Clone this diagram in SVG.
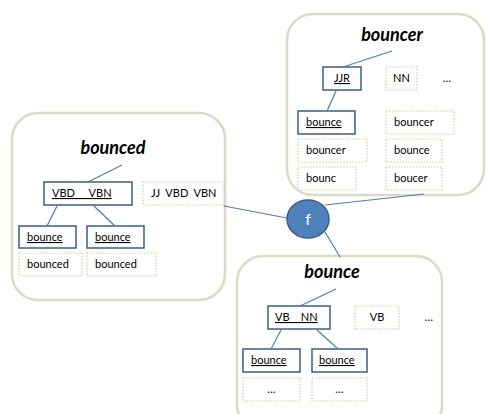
<svg xmlns="http://www.w3.org/2000/svg" width="487" height="414" viewBox="0 0 487 414">
<style>
.panel{fill:#fff;stroke:#ddd9c3;stroke-width:2.5}
.solid{fill:#fff;stroke:#385d8a;stroke-width:1.5}
.dot{fill:#fff;stroke:#c3d69b;stroke-width:1.2;stroke-dasharray:1.5 1.5}
.t{font-family:Lato,"Liberation Sans",sans-serif;font-size:11px;fill:#000;white-space:pre}
.u{text-decoration:underline}
.title{font-family:Lato,"Liberation Sans",sans-serif;font-size:18px;font-weight:bold;font-style:italic;fill:#000;text-anchor:middle}
.c{stroke:#4a7ebb;stroke-width:1.2;fill:none}
</style>
<g id="panel-bouncer">
<rect class="panel" x="287" y="14" width="197" height="181" rx="26"/>
<text class="title" x="392" y="41">bouncer</text>
<rect class="solid" x="323" y="67" width="38" height="23"/>
<text class="t u" x="342" y="82" text-anchor="middle">JJR</text>
<rect class="dot" x="386" y="67" width="31" height="23"/>
<text class="t" x="401.5" y="82" text-anchor="middle">NN</text>
<text class="t" x="447" y="82" text-anchor="middle">…</text>
<rect class="solid" x="298" y="111" width="57" height="23"/>
<text class="t u" x="306" y="126">bounce</text>
<rect class="dot" x="386" y="111" width="68" height="23"/>
<text class="t" x="394" y="126">bouncer</text>
<rect class="dot" x="298" y="139" width="69" height="23"/>
<text class="t" x="306" y="154">bouncer</text>
<rect class="dot" x="386" y="139" width="56" height="23"/>
<text class="t" x="394" y="154">bounce</text>
<rect class="dot" x="298" y="167" width="58" height="23"/>
<text class="t" x="306" y="182">bounc</text>
<rect class="dot" x="386" y="167" width="56" height="23"/>
<text class="t" x="394" y="182">boucer</text>
</g>
<g id="panel-bounced">
<rect class="panel" x="12" y="113" width="213" height="187" rx="26"/>
<text class="title" x="113" y="154">bounced</text>
<rect class="solid" x="44" y="182" width="88" height="23"/>
<text class="t u" x="52" y="197">VBD     VBN</text>
<rect class="dot" x="143" y="182" width="81" height="23"/>
<text class="t" x="151" y="197">JJ  VBD  VBN</text>
<rect class="solid" x="19" y="226" width="57" height="22"/>
<text class="t u" x="27" y="241">bounce</text>
<rect class="solid" x="87" y="226" width="57" height="22"/>
<text class="t u" x="95" y="241">bounce</text>
<rect class="dot" x="19" y="253" width="63" height="23"/>
<text class="t" x="27" y="268">bounced</text>
<rect class="dot" x="87" y="253" width="69" height="23"/>
<text class="t" x="95" y="268">bounced</text>
</g>
<g id="panel-bounce">
<rect class="panel" x="237" y="256" width="205" height="175" rx="26"/>
<text class="title" x="332" y="278">bounce</text>
<rect class="solid" x="268" y="306" width="62" height="23"/>
<text class="t u" x="275" y="321">VB    NN</text>
<rect class="dot" x="355" y="306" width="44" height="23"/>
<text class="t" x="377" y="321" text-anchor="middle">VB</text>
<text class="t" x="429" y="321" text-anchor="middle">…</text>
<rect class="solid" x="243" y="349" width="57" height="23"/>
<text class="t u" x="251" y="364">bounce</text>
<rect class="solid" x="312" y="349" width="55" height="23"/>
<text class="t u" x="319" y="364">bounce</text>
<rect class="dot" x="243" y="378" width="57" height="23"/>
<text class="t" x="271.5" y="393" text-anchor="middle">…</text>
<rect class="dot" x="312" y="378" width="55" height="23"/>
<text class="t" x="339.5" y="393" text-anchor="middle">…</text>
</g>
<g id="connectors">
<line class="c" x1="392" y1="51" x2="343" y2="67"/>
<line class="c" x1="336" y1="91" x2="327" y2="111"/>
<line class="c" x1="122" y1="165" x2="88" y2="182"/>
<line class="c" x1="57" y1="206" x2="47" y2="226"/>
<line class="c" x1="94" y1="206" x2="115" y2="226"/>
<line class="c" x1="336" y1="289" x2="300" y2="306"/>
<line class="c" x1="281" y1="330" x2="271" y2="349"/>
<line class="c" x1="317" y1="330" x2="338" y2="349"/>
<line class="c" x1="224" y1="206" x2="287" y2="218"/>
<line class="c" x1="325" y1="205" x2="424" y2="194"/>
<line class="c" x1="325" y1="232" x2="340" y2="257"/>
</g>
<g id="node-f">
<ellipse cx="308" cy="219" rx="21" ry="19" fill="#4f81bd" stroke="#385d8a" stroke-width="1.5"/>
<text x="308" y="225" text-anchor="middle" font-family="Lato,'Liberation Sans',sans-serif" font-size="16" fill="#fff">f</text>
</g>
</svg>
